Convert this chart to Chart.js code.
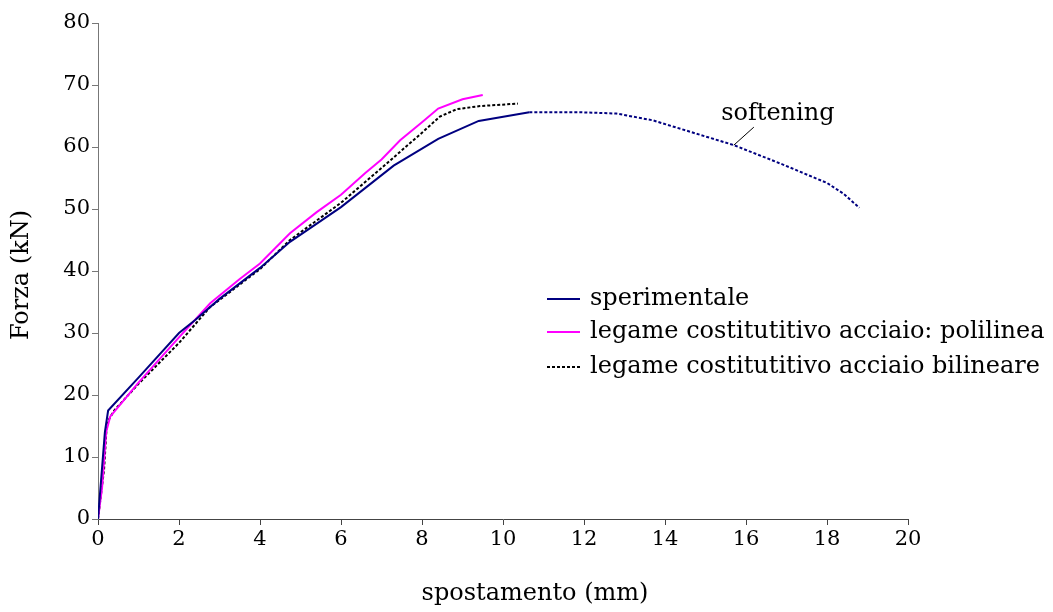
<!DOCTYPE html>
<html>
<head>
<meta charset="utf-8">
<script src="https://cdn.jsdelivr.net/npm/chart.js@4/dist/chart.umd.min.js"></script>
<style>
  body { margin: 0; background: #fff; }
  #wrap { width: 1053px; height: 612px; }
</style>
</head>
<body>
<div id="wrap"><canvas id="chart" width="1053" height="612"></canvas></div>
<script>
// data
const sperX = [0, 0.17, 0.25, 1.0, 2.0, 2.4, 3.0, 4.0, 4.74, 6.0, 7.3, 8.4, 9.4, 10.65, 11.9, 12.8, 13.7, 15.7, 16.9, 18.0, 18.4, 18.8];
const sperY = [0, 14, 17.5, 22.8, 30.0, 32.1, 35.5, 40.5, 44.7, 50.3, 57, 61.3, 64.2, 65.6, 65.6, 65.4, 64.3, 60.3, 57.2, 54.2, 52.5, 50.2];
const poliX = [0, 0.1, 0.2, 0.3, 1, 2, 2.77, 3.5, 4, 4.74, 5.4, 6, 6.6, 7.0, 7.46, 8, 8.4, 9, 9.5];
const poliY = [0, 5, 14, 16.5, 22, 29.3, 34.8, 38.7, 41.2, 46.1, 49.5, 52.3, 55.8, 58.0, 61.1, 64, 66.2, 67.7, 68.4];
const bilX = [0, 0.15, 0.22, 0.4, 1, 2, 2.77, 4, 4.74, 6, 7, 7.7, 8, 8.44, 8.86, 9.43, 10.37];
const bilY = [0, 8, 15.5, 17.5, 21.8, 28.4, 34.2, 40.3, 45.0, 51.0, 56.6, 60.6, 62.3, 64.9, 66.1, 66.6, 67];
const softStart = 10.65; // experimental curve turns dotted after the peak
const seriesNames = ['sperimentale', 'legame costitutitivo acciaio: polilinea', 'legame costitutitivo acciaio bilineare'];
const xTitle = 'spostamento (mm)';
const yTitle = 'Forza (kN)';

const FONT = '"DejaVu Serif", serif';

function pts(xs, ys) {
  return xs.map((x, i) => ({ x: x, y: ys[i] }));
}

// "softening" label with leader line
const softeningLabel = {
  id: 'softeningLabel',
  afterDatasetsDraw(chart) {
    const ctx = chart.ctx;
    const px = chart.scales.x.getPixelForValue(15.7);
    const py = chart.scales.y.getPixelForValue(60.3);
    ctx.save();
    ctx.strokeStyle = '#000';
    ctx.lineWidth = 1;
    ctx.beginPath();
    ctx.moveTo(px, py);
    ctx.lineTo(px + 20, py - 18);
    ctx.stroke();
    ctx.fillStyle = '#000';
    ctx.font = '24px ' + FONT;
    ctx.textAlign = 'center';
    ctx.textBaseline = 'alphabetic';
    ctx.fillText('softening', px + 44, py - 25);
    ctx.restore();
  }
};

// legend and axis titles drawn by hand (the originals sit off-centre)
const insideLegend = {
  id: 'insideLegend',
  afterDraw(chart) {
    const ctx = chart.ctx;
    const area = chart.chartArea;
    const x0 = area.left + 449;
    const rows = [area.top + 276, area.top + 309, area.top + 344];
    ctx.save();
    ctx.font = '24px ' + FONT;
    ctx.textBaseline = 'middle';
    ctx.fillStyle = '#000';
    chart.data.datasets.forEach((ds, i) => {
      ctx.strokeStyle = ds.borderColor;
      ctx.lineWidth = 2;
      ctx.setLineDash(ds.borderDash || []);
      ctx.beginPath();
      ctx.moveTo(x0, rows[i]);
      ctx.lineTo(x0 + 33, rows[i]);
      ctx.stroke();
      ctx.setLineDash([]);
      ctx.fillText(ds.label, x0 + 43, rows[i]);
    });
    ctx.textAlign = 'center';
    ctx.fillText(xTitle, area.left + 437, 594);
    ctx.translate(22, area.top + 252);
    ctx.rotate(-Math.PI / 2);
    ctx.fillText(yTitle, 0, 0);
    ctx.restore();
  }
};

new Chart(document.getElementById('chart'), {
  type: 'line',
  data: {
    datasets: [
      {
        label: seriesNames[0],
        data: pts(sperX, sperY),
        borderColor: '#000080',
        borderWidth: 2,
        pointRadius: 0,
        segment: {
          borderDash: c => c.p0.parsed.x >= softStart ? [3, 2] : undefined
        }
      },
      {
        label: seriesNames[1],
        data: pts(poliX, poliY),
        borderColor: '#ff00ff',
        borderWidth: 2,
        pointRadius: 0
      },
      {
        label: seriesNames[2],
        data: pts(bilX, bilY),
        borderColor: '#000000',
        borderWidth: 2,
        borderDash: [3, 2],
        pointRadius: 0
      }
    ]
  },
  options: {
    responsive: false,
    animation: false,
    layout: { padding: { left: 0, right: 145, top: 23, bottom: 0 } },
    plugins: {
      legend: { display: false },
      tooltip: { enabled: false }
    },
    scales: {
      x: {
        type: 'linear',
        min: 0,
        max: 20,
        ticks: { stepSize: 2, color: '#000', font: { family: FONT, size: 21 }, padding: 2 },
        grid: { drawOnChartArea: false, drawTicks: true, tickLength: 6, color: '#444' },
        border: { color: '#444', width: 1 },
        afterFit(scale) { scale.height = 93; }
      },
      y: {
        min: 0,
        max: 80,
        ticks: { stepSize: 10, color: '#000', font: { family: FONT, size: 21 }, padding: 2 },
        grid: { drawOnChartArea: false, drawTicks: true, tickLength: 6, color: '#777' },
        border: { color: '#777', width: 1 },
        afterFit(scale) { scale.width = 98; }
      }
    }
  },
  plugins: [softeningLabel, insideLegend]
});
</script>
</body>
</html>
